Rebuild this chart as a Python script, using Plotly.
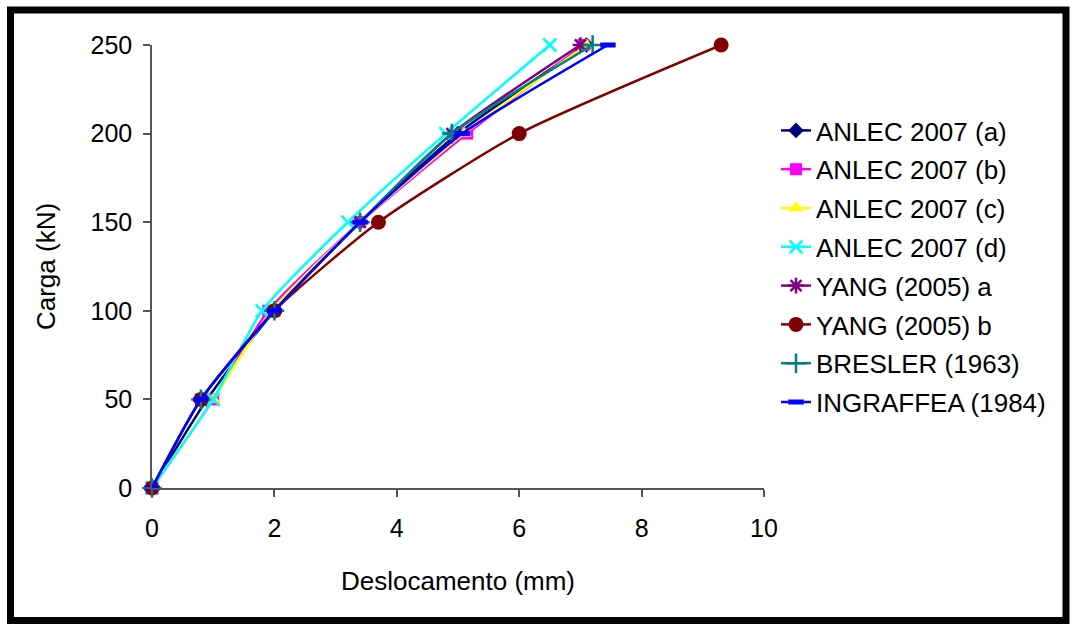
import plotly.graph_objects as go

load = [0, 50, 100, 150, 200, 250]

names = ["ANLEC 2007 (a)", "ANLEC 2007 (b)", "ANLEC 2007 (c)", "ANLEC 2007 (d)",
         "YANG (2005) a", "YANG (2005) b", "BRESLER (1963)", "INGRAFFEA (1984)"]

anlec_a = [0, 0.9, 2.0, 3.4, 5.0, 7.1]
anlec_b = [0, 1.0, 1.9, 3.4, 5.15, 7.05]
anlec_c = [0, 1.0, 1.95, 3.4, 5.1, 7.1]
anlec_d = [0, 1.0, 1.8, 3.2, 4.8, 6.5]
yang_a = [0, 0.8, 2.0, 3.4, 4.9, 7.0]
yang_b = [0, 0.8, 2.0, 3.7, 6.0, 9.3]
bresler = [0, 0.8, 2.0, 3.4, 4.9, 7.2]
ingraffea = [0, 0.8, 2.0, 3.4, 5.07, 7.45]

series = [anlec_a, anlec_b, anlec_c, anlec_d, yang_a, yang_b, bresler, ingraffea]

styles = [
    dict(color="#000080", symbol="diamond", size=12, lw=0),
    dict(color="#FF00FF", symbol="square", size=12, lw=0),
    dict(color="#FFFF00", symbol="triangle-up", size=13, lw=0),
    dict(color="#00FFFF", symbol="x-thin-open", size=13, lw=2.5),
    dict(color="#800080", symbol="asterisk-open", size=13, lw=2.5),
    dict(color="#800000", symbol="circle", size=15, lw=0),
    dict(color="#008080", symbol="cross-thin-open", size=14, lw=2.5),
    dict(color="#0000FF", symbol="line-ew-open", size=11, lw=5),
]

fig = go.Figure()
for name, xs, st in zip(names, series, styles):
    fig.add_trace(go.Scatter(
        x=xs, y=load, name=name, mode="lines+markers",
        line=dict(color=st["color"], width=2.5, shape="spline", smoothing=0.6),
        marker=dict(symbol=st["symbol"], size=st["size"], color=st["color"],
                    line=dict(color=st["color"], width=st["lw"])),
        cliponaxis=False, legendgroup=name,
    ))

font = "Arial, Liberation Sans, sans-serif"
fig.update_layout(
    width=1072, height=624,
    margin=dict(l=152, r=308, t=45, b=136),
    paper_bgcolor="white", plot_bgcolor="white",
    font=dict(family=font, size=24, color="black"),
    showlegend=True,
    legend=dict(x=1.0 + 12 / 612, xanchor="left", y=0.5, yanchor="middle",
                font=dict(size=26), tracegroupgap=2, itemwidth=30,
                bgcolor="rgba(0,0,0,0)"),
    xaxis=dict(range=[0, 10], dtick=2, showgrid=False, zeroline=False,
               showline=True, linecolor="#555555", linewidth=1.5,
               ticks="outside", ticklen=7, tickcolor="#555555", tickwidth=1.5,
               ticklabelstandoff=10,
               title=dict(text="Deslocamento (mm)", standoff=31, font=dict(size=26)),
               tickfont=dict(size=25)),
    yaxis=dict(range=[0, 250], dtick=50, showgrid=False, zeroline=False,
               showline=True, linecolor="#555555", linewidth=1.5,
               ticks="outside", ticklen=7, tickcolor="#555555", tickwidth=1.5,
               ticklabelstandoff=6,
               title=dict(text="Carga (kN)", standoff=27, font=dict(size=26)),
               tickfont=dict(size=25)),
)

# outer frame
pl, pr, pt, pb = 152, 764, 45, 488
def px(x):
    return (x - pl) / (pr - pl)
def py(y):
    return (pb - y) / (pb - pt)
fig.add_shape(type="rect", xref="paper", yref="paper",
              x0=px(10.5), x1=px(1066), y0=py(10), y1=py(620.5),
              line=dict(color="black", width=7), fillcolor="rgba(0,0,0,0)",
              layer="above")

fig.write_html("out.html", config={"displayModeBar": False},
               post_script="document.body.style.margin='0px';document.body.style.padding='0px';")
